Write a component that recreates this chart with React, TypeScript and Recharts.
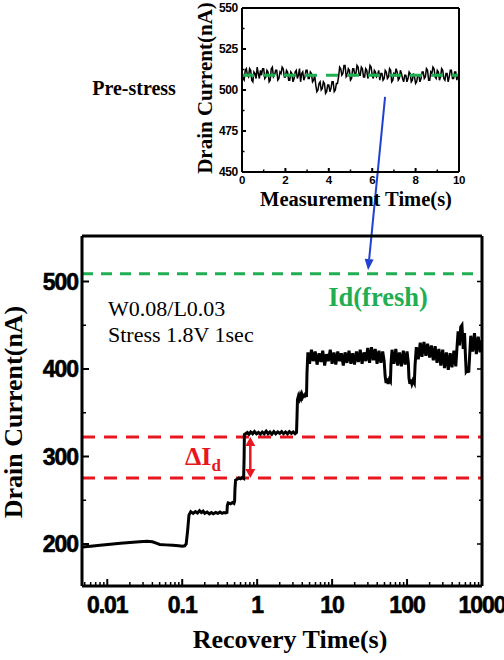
import React from 'react';
import { ComposedChart, LineChart, Line, XAxis, YAxis, ReferenceLine } from 'recharts';

// recovery trace after stress (log time axis)
const recoveryTime = [
  0.0046, 0.006, 0.008, 0.011, 0.015, 0.02, 0.027, 0.034, 0.04, 0.045, 0.05, 0.06, 0.075, 0.09, 0.1, 0.108, 0.113,
  0.118, 0.123, 0.13, 0.14, 0.15, 0.16, 0.17, 0.18, 0.19, 0.2, 0.215, 0.23, 0.245, 0.26, 0.28, 0.3, 0.32, 0.34, 0.36,
  0.38, 0.395, 0.4, 0.41, 0.44, 0.47, 0.49, 0.5, 0.505, 0.515, 0.54, 0.57, 0.6, 0.63, 0.66, 0.67, 0.675, 0.7, 0.74,
  0.78, 0.82, 0.87, 0.92, 0.98, 1.04, 1.1, 1.17, 1.24, 1.32, 1.4, 1.48, 1.57, 1.67, 1.77, 1.88, 2.0, 2.12, 2.25, 2.39,
  2.54, 2.69, 2.86, 3.03, 3.2, 3.35, 3.4, 3.45, 3.55, 3.65, 3.75, 3.85, 3.95, 4.05, 4.15, 4.3, 4.45, 4.55, 4.62,
  4.75, 5.0, 5.3, 5.6, 5.95, 6.3, 6.7, 7.1, 7.5, 7.95, 8.4, 8.9, 9.45, 10.0, 10.6, 11.2, 11.9, 12.6, 13.3, 14.1,
  14.9, 15.8, 16.8, 17.8, 18.8, 19.9, 21.1, 22.4, 23.7, 25.1, 26.6, 28.2, 29.9, 31.6, 33.5, 35.5, 37.6, 39.8, 42.2,
  44.7, 47.3, 49.5, 51, 52.5, 54, 56, 58, 60, 61, 63, 66.8, 70.8, 75, 79.4, 84.1, 89.1, 94.4, 100, 104, 106, 109,
  112, 116, 120, 125, 128, 133, 141, 150, 158, 168, 178, 188, 200, 211, 224, 237, 251, 266, 282, 299, 316, 335, 355,
  376, 398, 422, 447, 465, 480, 501, 520, 540, 562, 585, 600, 615, 640, 665, 690, 708, 750, 794, 841, 891, 944, 1000,
];
const drainCurrent = [
  196.5, 197.5, 198.5, 199.8, 200.8, 201.8, 202.6, 203, 202.6, 201, 199.5, 199, 198.5, 198, 197.5, 198, 200,
  215, 233, 237, 235, 237, 235.5, 238, 236, 237.5, 235, 236.5, 234.5, 236, 234.5, 236, 235, 236.5, 235, 236,
  235.5, 236, 244, 247, 246, 247.5, 246.5, 249, 262, 273, 274, 275.5, 274.5, 276, 275, 300, 325, 326, 327.5,
  325.5, 328, 326, 328.5, 326, 327.5, 325.5, 328, 326, 329, 326, 328, 325.5, 328.5, 326, 328, 326.5, 328.5, 326, 328,
  326, 328.5, 326.5, 328, 326, 327.5, 345, 365, 369, 366, 370, 367, 371, 368, 370, 369, 372, 368, 395,
  419, 406, 422, 409, 420, 405, 418, 408, 421, 404, 417, 409, 422, 406, 419, 405, 420, 409, 418, 404,
  419, 407, 421, 406, 418, 405, 420, 408, 422, 406, 419, 409, 424, 407, 425, 410, 423, 406, 421,
  407, 420, 409, 392, 384, 389, 383, 388, 386, 405, 422, 406, 423, 404, 419, 403, 421, 405, 420, 407, 390, 383,
  388, 383, 387, 384, 405, 425, 411, 430, 414, 431, 415, 429, 413, 427, 410, 426, 407, 423, 404, 422, 401, 419, 399,
  418, 402, 421, 403, 426, 443, 427, 448, 450, 423, 441, 417, 397, 399, 396, 421, 438, 420, 441, 417, 437, 419, 433,
];
const recoveryMajorTicks = [0.01, 0.1, 1, 10, 100, 1000];
const recoveryMinorTicks = [
  0.005, 0.006, 0.007, 0.008, 0.009, 0.02, 0.03, 0.04, 0.05, 0.06, 0.07, 0.08, 0.09,
  0.2, 0.3, 0.4, 0.5, 0.6, 0.7, 0.8, 0.9, 2, 3, 4, 5, 6, 7, 8, 9,
  20, 30, 40, 50, 60, 70, 80, 90, 200, 300, 400, 500, 600, 700, 800, 900,
];
const currentMajorTicks = [200, 300, 400, 500];
const currentMinorTicks = [250, 350, 450];
const freshCurrent = 509;
const degradedLevels = [322.3, 275.4];
const deltaArrowTime = 0.81;
const pointerFrom = { x: 50.9, y: 711 };
const pointerTo = { x: 30.2, y: 513 };

// pre-stress measurement (inset)
const measureTime = [
  0, 0.05, 0.1, 0.15, 0.2, 0.25, 0.3, 0.35, 0.4, 0.45, 0.5, 0.55, 0.6, 0.65, 0.7, 0.75, 0.8, 0.85, 0.9, 0.95,
  1, 1.05, 1.1, 1.15, 1.2, 1.25, 1.3, 1.35, 1.4, 1.45, 1.5, 1.55, 1.6, 1.65, 1.7, 1.75, 1.8, 1.85, 1.9, 1.95,
  2, 2.05, 2.1, 2.15, 2.2, 2.25, 2.3, 2.35, 2.4, 2.45, 2.5, 2.55, 2.6, 2.65, 2.7, 2.75, 2.8, 2.85, 2.9, 2.95,
  3, 3.05, 3.1, 3.15, 3.2, 3.25, 3.3, 3.35, 3.4, 3.45, 3.5, 3.55, 3.6, 3.65, 3.7, 3.75, 3.8, 3.85, 3.9, 3.95,
  4, 4.05, 4.1, 4.15, 4.2, 4.25, 4.3, 4.35, 4.4, 4.45, 4.5, 4.55, 4.6, 4.65, 4.7, 4.75, 4.8, 4.85, 4.9, 4.95,
  5, 5.05, 5.1, 5.15, 5.2, 5.25, 5.3, 5.35, 5.4, 5.45, 5.5, 5.55, 5.6, 5.65, 5.7, 5.75, 5.8, 5.85, 5.9, 5.95,
  6, 6.05, 6.1, 6.15, 6.2, 6.25, 6.3, 6.35, 6.4, 6.45, 6.5, 6.55, 6.6, 6.65, 6.7, 6.75, 6.8, 6.85, 6.9, 6.95,
  7, 7.05, 7.1, 7.15, 7.2, 7.25, 7.3, 7.35, 7.4, 7.45, 7.5, 7.55, 7.6, 7.65, 7.7, 7.75, 7.8, 7.85, 7.9, 7.95,
  8, 8.05, 8.1, 8.15, 8.2, 8.25, 8.3, 8.35, 8.4, 8.45, 8.5, 8.55, 8.6, 8.65, 8.7, 8.75, 8.8, 8.85, 8.9, 8.95,
  9, 9.05, 9.1, 9.15, 9.2, 9.25, 9.3, 9.35, 9.4, 9.45, 9.5, 9.55, 9.6, 9.65, 9.7, 9.75, 9.8, 9.85, 9.9, 9.95, 10,
];
const preStressCurrent = [
  511, 507, 506, 512, 513, 509, 508, 513, 512, 506, 505, 511, 510, 507, 514, 510, 507, 512, 509, 513,
  513, 507, 508, 512, 511, 505, 506, 513, 514, 508, 509, 512, 512, 506, 507, 511, 510, 514, 513, 508,
  508, 512, 511, 506, 506, 511, 510, 505, 507, 511, 512, 507, 509, 513, 505, 510, 511, 506, 508, 512,
  512, 507, 507, 511, 510, 505, 506, 509,
  503, 499, 500, 504, 505, 500, 501, 505, 504, 498, 499, 503, 503, 499, 501, 505, 505, 499, 500, 504, 504,
  508, 514, 513, 509, 510, 515, 515, 508, 509, 513, 512, 506, 507, 513, 513, 509, 510, 515, 514, 509,
  509, 514, 513, 508, 508, 513, 512, 507, 510, 515, 514, 509, 507, 512, 511, 508, 509, 512, 506, 510,
  510, 506, 507, 512, 511, 507, 508, 513, 512, 505, 506, 510, 509, 513, 511, 506, 507, 512, 510, 507,
  505, 509, 509, 505, 507, 511, 510, 505, 506, 510, 508, 504, 505, 509, 509, 505, 507, 511, 511, 507,
  508, 513, 512, 506, 506, 511, 510, 514, 513, 508, 507, 512, 511, 506, 508, 513, 512, 507, 506, 510,
  510, 505, 508, 512, 512, 507, 507, 511, 511, 506, 509, 510,
];
const preStressFresh = 509;
const measureMajorTicks = [0, 2, 4, 6, 8, 10];
const measureMinorTicks = [1, 3, 5, 7, 9];
const insetMajorTicks = [450, 475, 500, 525, 550];
const insetMinorTicks = [462.5, 487.5, 512.5, 537.5];

const mainData = recoveryTime.map((t, i) => ({ t, i: drainCurrent[i] }));
const insetData = measureTime.map((t, i) => ({ t, i: preStressCurrent[i] }));

const GREEN = '#1fae52';
const RED = '#e8161e';
const BLUE = '#2142d0';
const SERIF = '"Liberation Serif", "Times New Roman", serif';
const SANS = '"Liberation Sans", Arial, sans-serif';

const tickMaker = (side: string, majors: number[], big: number, small: number, fs: number, gap: number) => (props: any) => {
  const { x, y, payload } = props;
  const v = payload.value;
  const major = majors.includes(v);
  const len = major ? big : small;
  const textStyle = { fontFamily: SANS, fontWeight: 700, fontSize: fs, letterSpacing: fs > 15 ? -1 : -0.3 };
  const heavy = fs > 15 ? 0.6 : 0;
  if (side === 'bottom') {
    return (
      <g>
        <line x1={x} y1={y} x2={x} y2={y - len} stroke="#000" strokeWidth={major ? 2 : 1.5} />
        {major && (
          <text x={x} y={y + gap} textAnchor="middle" fill="#000" stroke="#000" strokeWidth={heavy} style={textStyle}>{v}</text>
        )}
      </g>
    );
  }
  if (side === 'left') {
    return (
      <g>
        <line x1={x} y1={y} x2={x + len} y2={y} stroke="#000" strokeWidth={major ? 2 : 1.5} />
        {major && (
          <text x={x - gap} y={y + fs * 0.36} textAnchor="end" fill="#000" stroke="#000" strokeWidth={heavy} style={textStyle}>{v}</text>
        )}
      </g>
    );
  }
  return (
    <g>
      <line x1={x} y1={y} x2={x - len} y2={y} stroke="#000" strokeWidth={1.5} />
    </g>
  );
};

const DoubleArrow = (p: any) => {
  const { x1, y1, y2 } = p;
  const top = Math.min(y1, y2);
  const bot = Math.max(y1, y2);
  const h = 9;
  const w = 5;
  return (
    <g>
      <line x1={x1} y1={top + h - 1} x2={x1} y2={bot - h + 1} stroke={RED} strokeWidth={2.5} />
      <polygon points={`${x1},${top} ${x1 - w},${top + h} ${x1 + w},${top + h}`} fill={RED} />
      <polygon points={`${x1},${bot} ${x1 - w},${bot - h} ${x1 + w},${bot - h}`} fill={RED} />
    </g>
  );
};

const PointerArrow = (p: any) => {
  const { x1, y1, x2, y2 } = p;
  const dx = x2 - x1;
  const dy = y2 - y1;
  const len = Math.hypot(dx, dy) || 1;
  const ux = dx / len;
  const uy = dy / len;
  const h = 11;
  const w = 4.5;
  const bx = x2 - ux * h;
  const by = y2 - uy * h;
  return (
    <g>
      <line x1={x1} y1={y1} x2={bx} y2={by} stroke={BLUE} strokeWidth={2} />
      <polygon points={`${x2},${y2} ${bx - uy * w},${by + ux * w} ${bx + uy * w},${by - ux * w}`} fill={BLUE} />
    </g>
  );
};

const abs = (left: number, top: number, extra: React.CSSProperties): React.CSSProperties => ({
  position: 'absolute',
  left,
  top,
  lineHeight: 1,
  whiteSpace: 'nowrap',
  fontFamily: SERIF,
  ...extra,
});

export default function App() {
  const recoveryTicks = [...recoveryMinorTicks, ...recoveryMajorTicks].sort((a, b) => a - b);
  const currentTicks = [...currentMajorTicks, ...currentMinorTicks].sort((a, b) => a - b);
  const measureTicks = [...measureMajorTicks, ...measureMinorTicks].sort((a, b) => a - b);
  const insetTicks = [...insetMajorTicks, ...insetMinorTicks].sort((a, b) => a - b);

  return (
    <div style={{ position: 'absolute', left: 0, top: 0, width: 504, height: 660, background: '#fff', overflow: 'hidden' }}>
      <div style={{ position: 'absolute', left: 0, top: 0 }}>
        <ComposedChart width={504} height={660} data={mainData} margin={{ top: 235, right: 21, bottom: 73, left: 81 }}>
          <XAxis
            dataKey="t"
            type="number"
            scale="log"
            domain={[0.0046, 1000]}
            allowDataOverflow
            ticks={recoveryTicks}
            interval={0}
            height={1}
            tickSize={0}
            tickMargin={0}
            tickLine={false}
            axisLine={{ stroke: '#000', strokeWidth: 3 }}
            tick={tickMaker('bottom', recoveryMajorTicks, 7, 4, 23, 27)}
          />
          <XAxis
            xAxisId="top"
            orientation="top"
            dataKey="t"
            type="number"
            scale="log"
            domain={[0.0046, 1000]}
            allowDataOverflow
            height={1}
            tick={false}
            tickLine={false}
            axisLine={{ stroke: '#000', strokeWidth: 3 }}
          />
          <YAxis
            type="number"
            domain={[152, 552]}
            allowDataOverflow
            ticks={currentTicks}
            interval={0}
            width={1}
            tickSize={0}
            tickMargin={0}
            tickLine={false}
            axisLine={{ stroke: '#000', strokeWidth: 3 }}
            tick={tickMaker('left', currentMajorTicks, 7, 4, 23, 4)}
          />
          <YAxis
            yAxisId="right"
            orientation="right"
            type="number"
            domain={[152, 552]}
            allowDataOverflow
            ticks={currentTicks}
            interval={0}
            width={1}
            tickSize={0}
            tickMargin={0}
            tickLine={false}
            axisLine={{ stroke: '#000', strokeWidth: 3 }}
            tick={tickMaker('right', currentMajorTicks, 5, 3, 23, 4)}
          />
          <ReferenceLine y={freshCurrent} stroke={GREEN} strokeWidth={3} strokeDasharray="11 8" />
          {degradedLevels.map((lv) => (
            <ReferenceLine key={lv} y={lv} stroke={RED} strokeWidth={3} strokeDasharray="13 9" />
          ))}
          <Line
            dataKey="i"
            type="linear"
            stroke="#000"
            strokeWidth={3}
            dot={false}
            activeDot={false}
            isAnimationActive={false}
          />
          <ReferenceLine
            segment={[{ x: deltaArrowTime, y: degradedLevels[0] }, { x: deltaArrowTime, y: degradedLevels[1] }]}
            shape={DoubleArrow}
          />
          <ReferenceLine segment={[pointerFrom, pointerTo]} ifOverflow="visible" shape={PointerArrow} />
        </ComposedChart>
      </div>

      <div style={{ position: 'absolute', left: 0, top: 0 }}>
        <LineChart width={504} height={210} data={insetData} margin={{ top: 7, right: 44, bottom: 37, left: 241 }}>
          <XAxis
            dataKey="t"
            type="number"
            domain={[0, 10]}
            allowDataOverflow
            ticks={measureTicks}
            interval={0}
            height={1}
            tickSize={0}
            tickMargin={0}
            tickLine={false}
            axisLine={{ stroke: '#000', strokeWidth: 2 }}
            tick={tickMaker('bottom', measureMajorTicks, 4, 2.5, 11.5, 12)}
          />
          <XAxis xAxisId="top" orientation="top" dataKey="t" type="number" domain={[0, 10]} height={1} tick={false} tickLine={false} axisLine={{ stroke: '#000', strokeWidth: 2 }} />
          <YAxis
            type="number"
            domain={[450, 550]}
            allowDataOverflow
            ticks={insetTicks}
            interval={0}
            width={1}
            tickSize={0}
            tickMargin={0}
            tickLine={false}
            axisLine={{ stroke: '#000', strokeWidth: 2 }}
            tick={tickMaker('left', insetMajorTicks, 4, 2.5, 12, 4)}
          />
          <YAxis yAxisId="right" orientation="right" type="number" domain={[450, 550]} width={1} tick={false} tickLine={false} axisLine={{ stroke: '#000', strokeWidth: 2 }} />
          <Line
            dataKey="i"
            type="linear"
            stroke="#000"
            strokeWidth={1.5}
            dot={false}
            activeDot={false}
            isAnimationActive={false}
          />
          <ReferenceLine y={preStressFresh} stroke={GREEN} strokeWidth={3} strokeDasharray="12 9" />
        </LineChart>
      </div>

      <div style={abs(134, 88, { transform: 'translate(-50%,-50%)', fontSize: 20, fontWeight: 700 })}>Pre-stress</div>
      <div style={abs(205, 88, { transform: 'translate(-50%,-50%) rotate(-90deg)', fontSize: 21, fontWeight: 700 })}>Drain Current(nA)</div>
      <div style={abs(356, 199, { transform: 'translate(-50%,-50%)', fontSize: 20.5, fontWeight: 700 })}>Measurement Time(s)</div>
      <div style={abs(14, 412, { transform: 'translate(-50%,-50%) rotate(-90deg)', fontSize: 26, fontWeight: 700 })}>Drain Current(nA)</div>
      <div style={abs(290, 640, { transform: 'translate(-50%,-50%)', fontSize: 26, fontWeight: 700 })}>Recovery Time(s)</div>
      <div style={abs(108, 309, { transform: 'translateY(-50%)', fontSize: 22 })}>W0.08/L0.03</div>
      <div style={abs(108, 335, { transform: 'translateY(-50%)', fontSize: 22 })}>Stress 1.8V 1sec</div>
      <div style={abs(378, 297, { transform: 'translate(-50%,-50%)', fontSize: 26.5, fontWeight: 700, color: GREEN })}>Id(fresh)</div>
      <div style={abs(185, 459, { transform: 'translateY(-50%)', fontSize: 26, fontWeight: 700, color: RED })}>
        ΔI<sub style={{ fontSize: 17, verticalAlign: -6 }}>d</sub>
      </div>
    </div>
  );
}
